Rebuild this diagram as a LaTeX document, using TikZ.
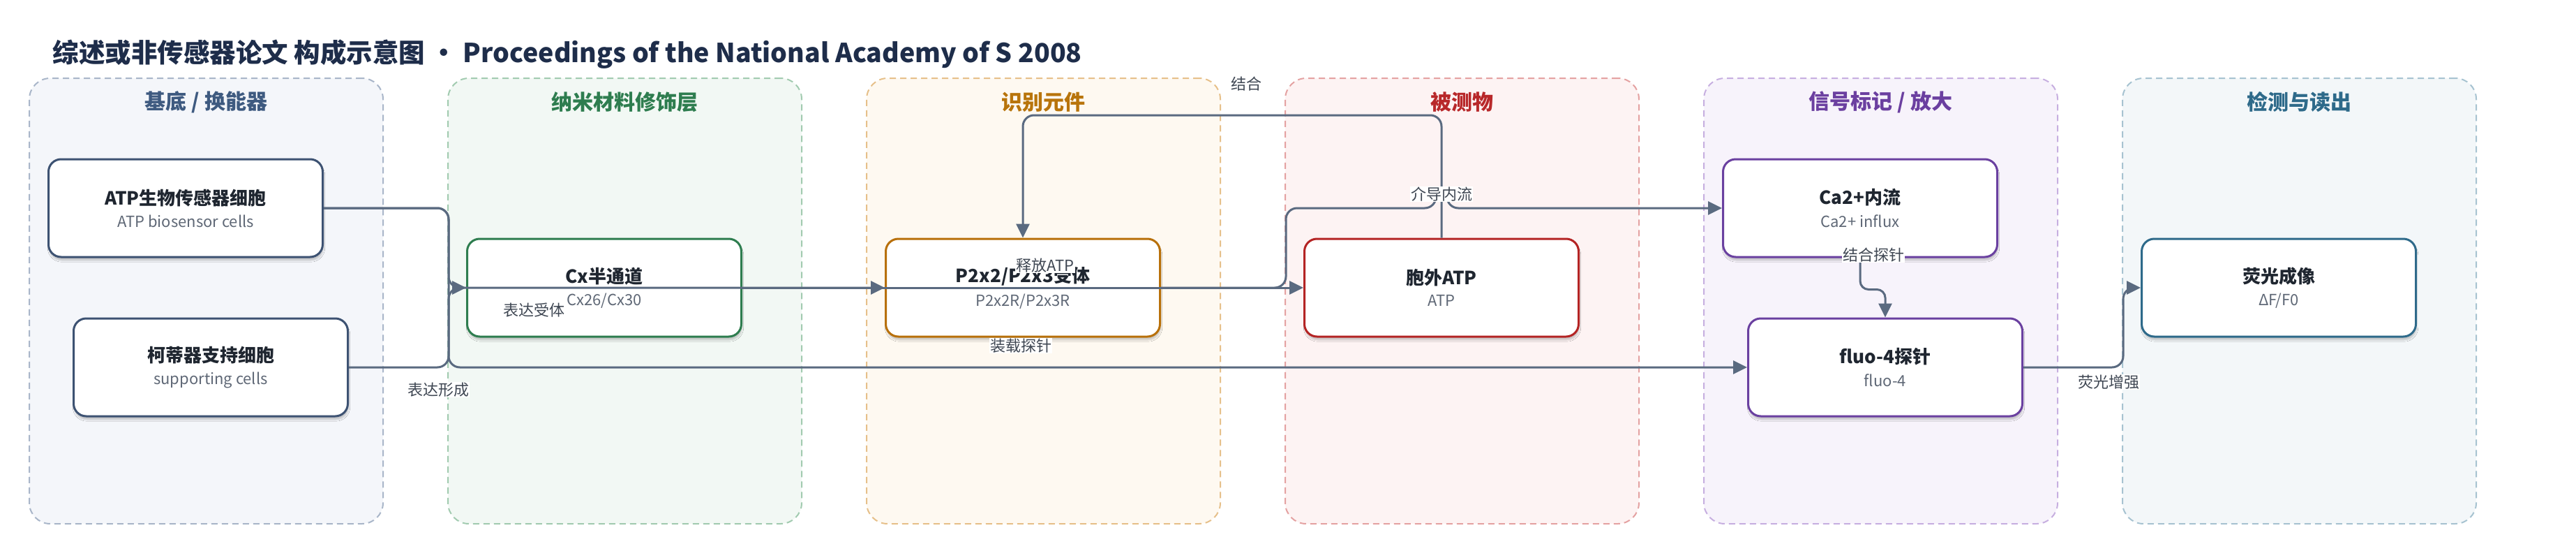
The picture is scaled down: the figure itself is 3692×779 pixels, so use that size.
\documentclass[tikz,border=0pt]{standalone}
\usepackage{fontspec}
\setmainfont{Noto Sans CJK SC}
\usetikzlibrary{arrows.meta,shadows.blur}

\definecolor{inkdark}{HTML}{1E2D4A}
\definecolor{flowgray}{HTML}{5A6A80}
\definecolor{subgray}{HTML}{5F6876}
\definecolor{labgray}{HTML}{3F4753}
\definecolor{boxtext}{HTML}{1F2630}
% panel colours
\definecolor{basefill}{HTML}{F4F6FA}\definecolor{baseline}{HTML}{A9B6C9}\definecolor{basehead}{HTML}{3E5A80}\definecolor{basebox}{HTML}{3D5272}
\definecolor{nanofill}{HTML}{F2F8F4}\definecolor{nanoline}{HTML}{A2CBB0}\definecolor{nanohead}{HTML}{2E7D4F}\definecolor{nanobox}{HTML}{2E7D4F}
\definecolor{recofill}{HTML}{FEF9F1}\definecolor{recoline}{HTML}{E6C08A}\definecolor{recohead}{HTML}{B8740B}\definecolor{recobox}{HTML}{B8700A}
\definecolor{anafill}{HTML}{FDF3F3}\definecolor{analine}{HTML}{E4A2A2}\definecolor{anahead}{HTML}{B8282A}\definecolor{anabox}{HTML}{B42424}
\definecolor{sigfill}{HTML}{F7F3FB}\definecolor{sigline}{HTML}{C7AFE0}\definecolor{sighead}{HTML}{6B3FA0}\definecolor{sigbox}{HTML}{6A40A0}
\definecolor{detfill}{HTML}{F3F7F9}\definecolor{detline}{HTML}{A7C3D1}\definecolor{dethead}{HTML}{2E6A8A}\definecolor{detbox}{HTML}{2E6A8A}

\newcommand{\boxlabel}[2]{{\fontsize{26}{30}\selectfont\bfseries\color{boxtext}#1}\\[11pt]{\fontsize{22}{26}\selectfont\color{subgray}#2}}

\begin{document}
\begin{tikzpicture}[x=1pt, y=-1pt,
    panel/.style={rounded corners=30pt, line width=2pt, dash pattern=on 9pt off 6pt, minimum width=507pt, minimum height=638pt},
    phead/.style={font=\fontsize{30}{34}\selectfont\bfseries},
    stagebox/.style={draw, line width=3pt, fill=white, rounded corners=18pt, minimum width=393pt, minimum height=140pt, align=center,
        blur shadow={shadow xshift=1pt, shadow yshift=-5pt, shadow opacity=20, shadow blur steps=6}},
    flow/.style={draw=flowgray, line width=3pt, rounded corners=16pt, -{Triangle[length=20pt,width=19pt]}},
    elabel/.style={font=\fontsize{22}{26}\selectfont, text=labgray, fill=white, inner sep=1pt}]
    \useasboundingbox (0,0) rectangle (3692,779);

    \node[anchor=west, font=\fontsize{37.5}{42}\selectfont\bfseries, text=inkdark] (title) at (72,78) {综述或非传感器论文 构成示意图 · Proceedings of the National Academy of S 2008};

    % stage panels
    \node[panel, fill=basefill, draw=baseline] (pbase) at (295.5,431) {};
    \node[panel, fill=nanofill, draw=nanoline] (pnano) at (895.5,431) {};
    \node[panel, fill=recofill, draw=recoline] (preco) at (1495.5,431) {};
    \node[panel, fill=anafill, draw=analine] (pana) at (2095.5,431) {};
    \node[panel, fill=sigfill, draw=sigline] (psig) at (2695.5,431) {};
    \node[panel, fill=detfill, draw=detline] (pdet) at (3295.5,431) {};
    \node[phead, text=basehead] at (295.5,146) {基底 / 换能器};
    \node[phead, text=nanohead] at (895.5,146) {纳米材料修饰层};
    \node[phead, text=recohead] at (1495.5,146) {识别元件};
    \node[phead, text=anahead] at (2095.5,146) {被测物};
    \node[phead, text=sighead] at (2695.5,146) {信号标记 / 放大};
    \node[phead, text=dethead] at (3295.5,146) {检测与读出};

    % boxes
    \node[stagebox, draw=basebox] (atpbio) at (266,298) {\boxlabel{ATP生物传感器细胞}{ATP biosensor cells}};
    \node[stagebox, draw=basebox] (support) at (302,526) {\boxlabel{柯蒂器支持细胞}{supporting cells}};
    \node[stagebox, draw=nanobox] (cx) at (866,412) {\boxlabel{Cx半通道}{Cx26/Cx30}};
    \node[stagebox, draw=recobox] (p2x) at (1466,412) {\boxlabel{P2x2/P2x3受体}{P2x2R/P2x3R}};
    \node[stagebox, draw=anabox] (eatp) at (2066,412) {\boxlabel{胞外ATP}{ATP}};
    \node[stagebox, draw=sigbox] (ca) at (2666,298) {\boxlabel{Ca2+内流}{Ca2+ influx}};
    \node[stagebox, draw=sigbox] (fluo) at (2702,526) {\boxlabel{fluo-4探针}{fluo-4}};
    \node[stagebox, draw=detbox] (fimg) at (3266,412) {\boxlabel{荧光成像}{ΔF/F0}};

    % junctions
    \coordinate (jmid) at (643,412);
    \coordinate (jlow) at (643,526);
    \coordinate (jtop) at (1466,165);
    \coordinate (jrise) at (1843,298);
    \coordinate (hopa) at (2058,298);
    \coordinate (hopb) at (2074,298);
    \coordinate (jout) at (3043,412);

    % connectors
    \draw[flow] (support.east) -| (jmid) -- (cx.west);
    \draw[flow] (atpbio.east) -| (jmid) -- (p2x.west);
    \draw[flow] (atpbio.east) -| (jlow) -- (fluo.west);
    \draw[flow] (cx.east) -- (eatp.west);
    \draw[flow] (eatp.north) |- (jtop) -- (p2x.north);
    \draw[flow] (p2x.east) -| (jrise) -- (hopa) .. controls (2058,288) and (2074,288) .. (hopb) -- (ca.west);
    \draw[flow, rounded corners=12pt] (ca.south) -- ++(0,45) -| (fluo.north);
    \draw[flow] (fluo.east) -| (jout) -- (fimg.west);

    % connector labels
    \node[elabel] (lform) at (628,558) {表达形成};
    \node[elabel] (lrec) at (765,444) {表达受体};
    \node[elabel] (lload) at (1463,495) {装载探针};
    \node[elabel] (lrel) at (1498,380) {释放ATP};
    \node[elabel, fill=none] (lbind) at (1786,120) {结合};
    \node[elabel] (lflux) at (2066,278) {介导内流};
    \node[elabel] (lprobe) at (2685,365) {结合探针};
    \node[elabel] (lglow) at (3022,547) {荧光增强};
\end{tikzpicture}
\end{document}
